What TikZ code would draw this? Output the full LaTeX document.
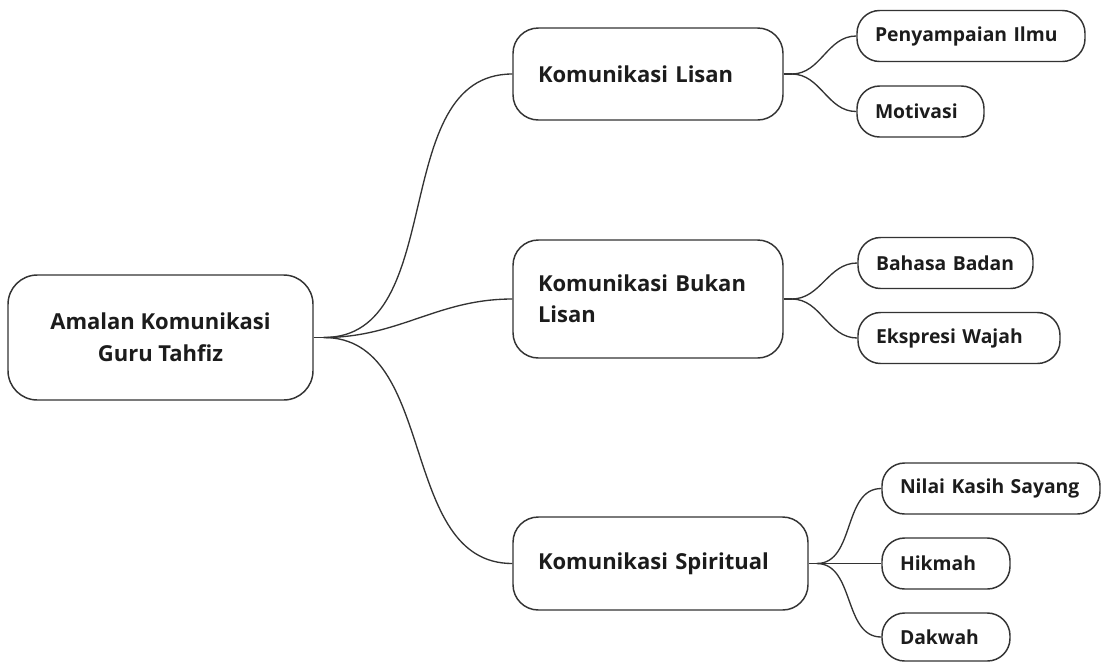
\documentclass[tikz,border=0pt]{standalone}
\usepackage{fontspec}
\setmainfont{Open Sans}
\usetikzlibrary{positioning}
\definecolor{linegray}{HTML}{333333}
\definecolor{textgray}{HTML}{1C1C1C}

\begin{document}
\begin{tikzpicture}[x=0.75pt,y=-0.75pt,
    rootbox/.style={draw=linegray, line width=1.1pt, rounded corners=22pt,
        align=center, minimum width=228.75pt, minimum height=93.75pt,
        text=textgray, font=\bfseries\fontsize{16.5}{24}\selectfont},
    midbox/.style={draw=linegray, line width=1.1pt, rounded corners=19pt,
        align=left, inner xsep=18.75pt, text width=#1, minimum height=69pt,
        text=textgray, font=\bfseries\fontsize{16.5}{23}\selectfont},
    leafbox/.style={draw=linegray, line width=1.1pt, rounded corners=17pt,
        align=left, inner xsep=13.5pt, text width=#1, minimum height=38.25pt,
        text=textgray, font=\bfseries\fontsize{14.5}{17}\selectfont},
    branch/.style={draw=linegray, line width=1pt}]
\useasboundingbox (0,0) rectangle (1103,662);

% root and the three kinds of communication
\node[rootbox] (amalan) at (160.5,337.5) {Amalan Komunikasi\\Guru Tahfiz};
\node[midbox=165pt] (lisan) at (648,74) {Komunikasi Lisan};
\node[midbox=165pt, minimum height=88.5pt] (bukan) at (648,299) {Komunikasi Bukan\\Lisan};
\node[midbox=183.75pt, minimum height=69.75pt] (spiritual) at (660.5,563.5) {Komunikasi Spiritual};

% leaves
\node[leafbox=144pt] (ilmu) at (971,36) {Penyampaian Ilmu};
\node[leafbox=68.25pt] (motivasi) at (920.5,111.5) {Motivasi};
\node[leafbox=104.25pt] (badan) at (945.5,263) {Bahasa Badan};
\node[leafbox=124.5pt] (wajah) at (959,338) {Ekspresi Wajah};
\node[leafbox=136.5pt] (kasih) at (991,488.5) {Nilai Kasih Sayang};
\node[leafbox=69pt] (hikmah) at (946,563.5) {Hikmah};
\node[leafbox=69pt, minimum height=36pt] (dakwah) at (946,637) {Dakwah};

% branches
\draw[branch] (amalan.east) -- ++(10,0) coordinate (amalanfork);
\draw[branch] (amalanfork) to[out=0,in=180] (lisan.west);
\draw[branch] (amalanfork) to[out=0,in=180] (bukan.west);
\draw[branch] (amalanfork) to[out=0,in=180] (spiritual.west);

\draw[branch] (lisan.east) -- ++(8,0) coordinate (lisanfork);
\draw[branch] (lisanfork) to[out=0,in=180] (ilmu.west);
\draw[branch] (lisanfork) to[out=0,in=180] (motivasi.west);

\draw[branch] (bukan.east) -- ++(8,0) coordinate (bukanfork);
\draw[branch] (bukanfork) to[out=0,in=180] (badan.west);
\draw[branch] (bukanfork) to[out=0,in=180] (wajah.west);

\draw[branch] (spiritual.east) -- ++(8,0) coordinate (spiritualfork);
\draw[branch] (spiritualfork) to[out=0,in=180] (kasih.west);
\draw[branch] (spiritualfork) -- (hikmah.west);
\draw[branch] (spiritualfork) to[out=0,in=180] (dakwah.west);
\end{tikzpicture}
\end{document}
